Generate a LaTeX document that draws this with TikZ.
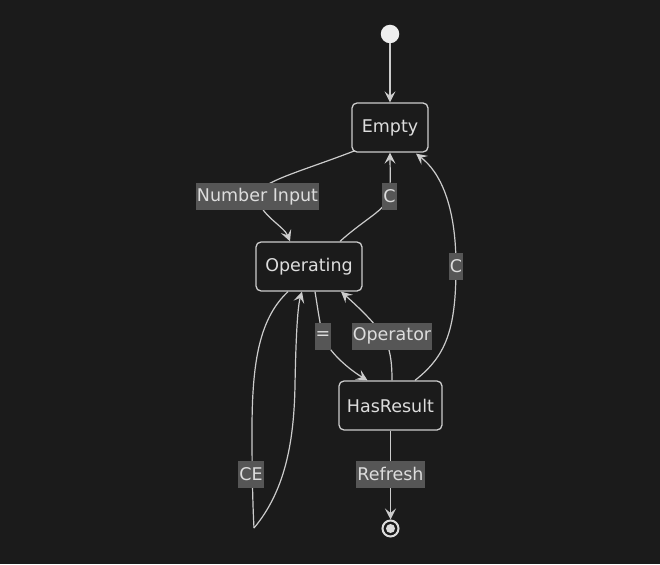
\documentclass[tikz,border=0pt]{standalone}
\usepackage{fontspec}
\setmainfont{DejaVu Sans}
\usetikzlibrary{arrows.meta,calc}
\definecolor{bg}{HTML}{1B1B1B}
\definecolor{ln}{HTML}{CCCCCC}
\definecolor{txt}{HTML}{DDDDDD}
\definecolor{dot}{HTML}{EEEEEE}
\definecolor{lblbg}{HTML}{565656}
\tikzset{
  state/.style={draw=ln, line width=1.3pt, rounded corners=5pt, fill=bg, text=txt,
    minimum height=49pt, inner sep=0pt, font=\fontsize{17.5}{21}\selectfont},
  edgelbl/.style={fill=lblbg, text=txt, inner xsep=1pt, inner ysep=0pt,
    minimum height=27pt, font=\fontsize{17.5}{21}\selectfont},
  conn/.style={draw=ln, line width=1.2pt},
  arr/.style={conn, -{Stealth[length=11pt,width=11pt,inset=4.5pt]}},
}
\begin{document}
\begin{tikzpicture}[x=1pt,y=-1pt]
\fill[bg] (0,0) rectangle (660,564);
\useasboundingbox (0,0) rectangle (660,564);

\node[circle, fill=dot, minimum size=18.5pt, inner sep=0pt] (start) at (390,34) {};
\node[state, minimum width=76pt] (empty) at (390,127.5) {Empty};
\node[state, minimum width=106pt] (op) at (309,266.5) {Operating};
\node[state, minimum width=103pt] (hr) at (390.5,405.5) {HasResult};
\node[circle, draw=txt, line width=2pt, minimum size=16pt, inner sep=0pt] (end) at (390.5,528.5) {};
\fill[txt] (end.center) circle (4.5pt);
\coordinate (cebot) at (254,528);

% start -> Empty
\draw[arr] (start) -- (empty.north);
% Empty -> Operating : Number Input
\draw[arr] ([xshift=-35pt,yshift=2pt]empty.south) .. controls (300,172) and (258,182) .. (258,196)
  .. controls (258,214) and (284,226) .. ([xshift=-19pt]op.north);
% Operating -> Empty : C
\draw[arr] ([xshift=31pt]op.north) .. controls (366,218) and (386,210) .. (389,196)
  .. controls (391,182) and (390,168) .. (empty.south);
% HasResult -> Empty : C
\draw[arr] ([xshift=24.5pt]hr.north) .. controls (446,356) and (456,330) .. (456,266)
  .. controls (456,205) and (440,172) .. ([xshift=26pt,yshift=-1pt]empty.south);
% Operating -> HasResult : =
\draw[arr] ([xshift=6pt]op.south) .. controls (318,310) and (320,325) .. (323,336)
  .. controls (328,352) and (350,370) .. ([xshift=-23pt]hr.north);
% HasResult -> Operating : Operator
\draw[arr] ([xshift=1.5pt]hr.north) .. controls (392,360) and (390,345) .. (380,331)
  .. controls (370,318) and (355,304) .. ([xshift=32pt]op.south);
% Operating -> Operating : CE
\draw[conn] ([xshift=-21pt]op.south) .. controls (260,318) and (252,360) .. (252,430)
  .. controls (252,480) and (253,510) .. (cebot);
\draw[arr] (cebot) .. controls (284,492) and (294,445) .. (295,385)
  .. controls (296,330) and (298,305) .. ([xshift=-7pt]op.south);
% HasResult -> end : Refresh
\draw[arr] (hr.south) -- (end.north);

% labels
\node[edgelbl] (lnum) at (257.5,196.5) {Number Input};
\node[edgelbl] (lc1) at (389.5,196.5) {C};
\node[edgelbl] (lc2) at (456,266.5) {C};
\node[edgelbl] (leq) at (323,336) {=};
\node[edgelbl] (lopr) at (392,336) {Operator};
\node[edgelbl] (lce) at (251,474) {CE};
\node[edgelbl] (lref) at (390.5,474) {Refresh};
\end{tikzpicture}
\end{document}
